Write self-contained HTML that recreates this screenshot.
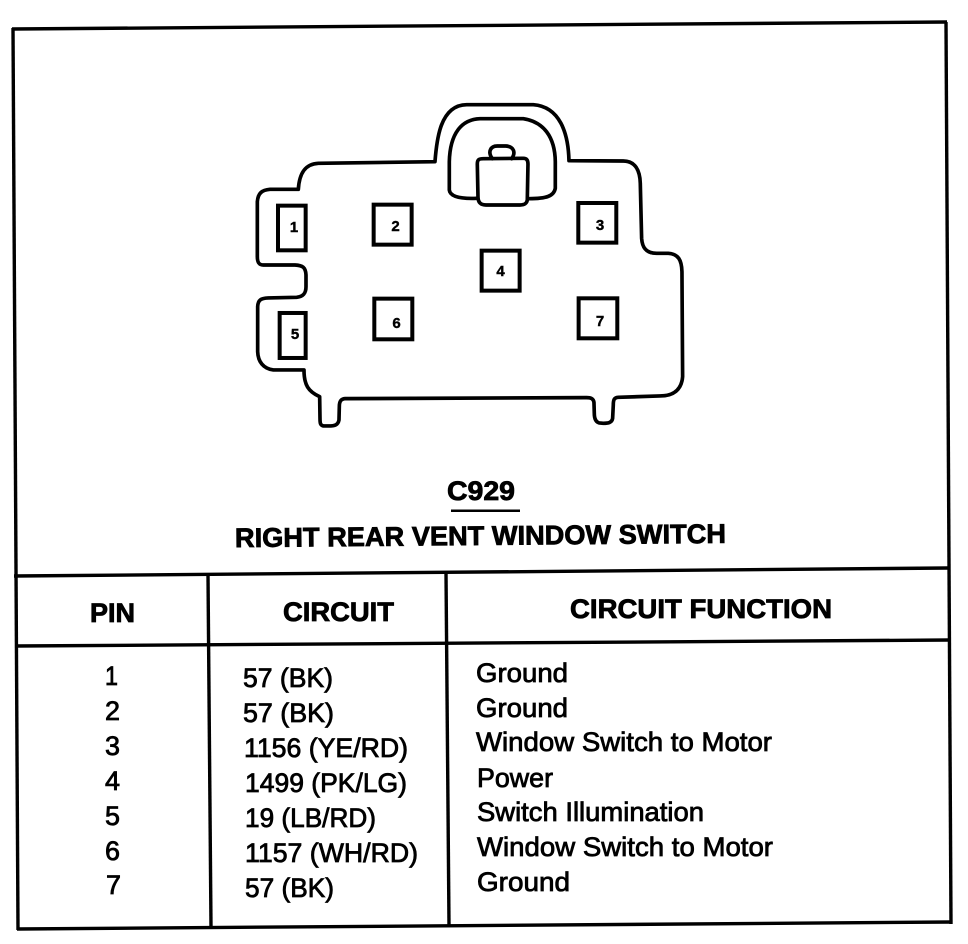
<!DOCTYPE html>
<html><head><meta charset="utf-8"><style>
html,body{margin:0;padding:0;background:#fff}
svg{display:block}
text{font-family:"Liberation Sans",sans-serif;fill:#000;stroke:#000}
.b{font-weight:bold;font-size:27px;stroke-width:.8}
.r{font-size:27px;stroke-width:.8}
.n{font-weight:bold;font-size:15px;stroke-width:.4;text-anchor:middle}
</style></head><body>
<svg width="968" height="944" viewBox="0 0 968 944" xmlns="http://www.w3.org/2000/svg">
<rect width="968" height="944" fill="#fff"/>
<g stroke="#000" fill="none" stroke-width="3.4">
<line x1="12" y1="29" x2="947" y2="22"/>
<line x1="13" y1="28" x2="18" y2="930"/>
<line x1="946" y1="22" x2="951" y2="924"/>
<line x1="17" y1="929" x2="952" y2="922"/>
<line x1="14" y1="576" x2="948" y2="568"/>
<line x1="15" y1="646" x2="950" y2="640"/>
<line x1="208" y1="575" x2="211" y2="927"/>
<line x1="446" y1="573" x2="449" y2="925"/>
</g>
<g transform="translate(240,90) scale(.3333)" fill="none" stroke="#000" stroke-width="11" stroke-linejoin="round" stroke-linecap="round">
<path d="M175 298 C178 250 195 222 235 220 L585 215 C590 150 600 45 680 44 L880 44 C960 50 985 130 987 212 L1150 213 C1185 213 1200 240 1201 280 L1205 445 C1207 475 1220 490 1250 490 L1285 490 C1315 492 1325 510 1326 545 L1328 860 C1325 900 1300 918 1260 918 L1135 922 C1122 923 1120 930 1120 945 L1118 985 C1116 998 1105 1000 1090 1000 L1078 999 C1066 996 1063 985 1063 970 L1062 937 C1060 925 1052 923 1040 923 L315 926 C302 927 298 935 298 950 L297 990 C294 1005 285 1008 265 1008 L250 1008 C241 1006 240 1000 240 985 L239 920 C205 905 192 885 192 840 L100 840 C70 836 54 815 53 785 L53 650 C54 630 62 625 85 624 L170 622 C190 620 198 610 198 590 L198 555 C197 532 188 526 165 525 L70 525 C57 525 52 518 52 500 L52 335 C54 310 65 300 90 298 Z"/>
<path d="M628 215 L628 300 C630 318 655 327 710 325 M628 215 C630 130 665 88 720 86 L850 86 C910 95 945 140 946 215 L946 295 C942 318 920 326 866 326"/>
<path d="M712 222 C712 208 718 206 730 206 L850 205 C860 205 864 210 864 222 L862 330 C860 342 852 345 840 345 L738 345 C720 345 714 335 714 320 Z"/>
<path d="M757 206 C742 185 752 168 772 168 L798 168 C822 170 828 188 815 206"/>
<g stroke-width="12" stroke-linejoin="miter">
<rect x="114" y="347" width="83" height="134"/>
<rect x="401" y="344" width="114" height="120"/>
<rect x="1015" y="339" width="114" height="119"/>
<rect x="725" y="482" width="114" height="120"/>
<rect x="119" y="669" width="78" height="135"/>
<rect x="403" y="626" width="114" height="122"/>
<rect x="1016" y="625" width="116" height="120"/>
</g>
</g>
<text class="n" x="294" y="232">1</text>
<text class="n" x="395.500" y="231">2</text>
<text class="n" x="600" y="230">3</text>
<text class="n" x="500.500" y="276">4</text>
<text class="n" x="295" y="339">5</text>
<text class="n" x="396.500" y="328">6</text>
<text class="n" x="600" y="326">7</text>
<text class="b" x="447" y="500" textLength="68" lengthAdjust="spacingAndGlyphs">C929</text>
<rect x="451" y="509.500" width="69" height="2.500" fill="#000"/>
<text class="b" x="235" y="545" textLength="491" lengthAdjust="spacingAndGlyphs" transform="rotate(-.5 480 540)">RIGHT REAR VENT WINDOW SWITCH</text>
<text class="b" x="90" y="622" textLength="45" lengthAdjust="spacingAndGlyphs">PIN</text>
<text class="b" x="283" y="621" textLength="111" lengthAdjust="spacingAndGlyphs">CIRCUIT</text>
<text class="b" x="570" y="618" textLength="262" lengthAdjust="spacingAndGlyphs">CIRCUIT FUNCTION</text>
<text class="r" x="105" y="685" textLength="13" lengthAdjust="spacingAndGlyphs">1</text>
<text class="r" x="105" y="720" textLength="15" lengthAdjust="spacingAndGlyphs">2</text>
<text class="r" x="105" y="755" textLength="15" lengthAdjust="spacingAndGlyphs">3</text>
<text class="r" x="105" y="790" textLength="15" lengthAdjust="spacingAndGlyphs">4</text>
<text class="r" x="105" y="825" textLength="15" lengthAdjust="spacingAndGlyphs">5</text>
<text class="r" x="105" y="860" textLength="15" lengthAdjust="spacingAndGlyphs">6</text>
<text class="r" x="106" y="894" textLength="15" lengthAdjust="spacingAndGlyphs">7</text>
<text class="r" x="243" y="687" textLength="90" lengthAdjust="spacingAndGlyphs">57 (BK)</text>
<text class="r" x="243" y="722" textLength="91" lengthAdjust="spacingAndGlyphs">57 (BK)</text>
<text class="r" x="244" y="757" textLength="164" lengthAdjust="spacingAndGlyphs">1156 (YE/RD)</text>
<text class="r" x="245" y="792" textLength="162" lengthAdjust="spacingAndGlyphs">1499 (PK/LG)</text>
<text class="r" x="245" y="827" textLength="131" lengthAdjust="spacingAndGlyphs">19 (LB/RD)</text>
<text class="r" x="245" y="862" textLength="173" lengthAdjust="spacingAndGlyphs">1157 (WH/RD)</text>
<text class="r" x="245" y="897" textLength="89" lengthAdjust="spacingAndGlyphs">57 (BK)</text>
<text class="r" x="476" y="682" textLength="92" lengthAdjust="spacingAndGlyphs">Ground</text>
<text class="r" x="476" y="717" textLength="92" lengthAdjust="spacingAndGlyphs">Ground</text>
<text class="r" x="476" y="751" textLength="296" lengthAdjust="spacingAndGlyphs">Window Switch to Motor</text>
<text class="r" x="477" y="787" textLength="76" lengthAdjust="spacingAndGlyphs">Power</text>
<text class="r" x="477" y="821" textLength="227" lengthAdjust="spacingAndGlyphs">Switch Illumination</text>
<text class="r" x="477" y="856" textLength="296" lengthAdjust="spacingAndGlyphs">Window Switch to Motor</text>
<text class="r" x="477" y="891" textLength="93" lengthAdjust="spacingAndGlyphs">Ground</text>
</svg>
</body></html>
